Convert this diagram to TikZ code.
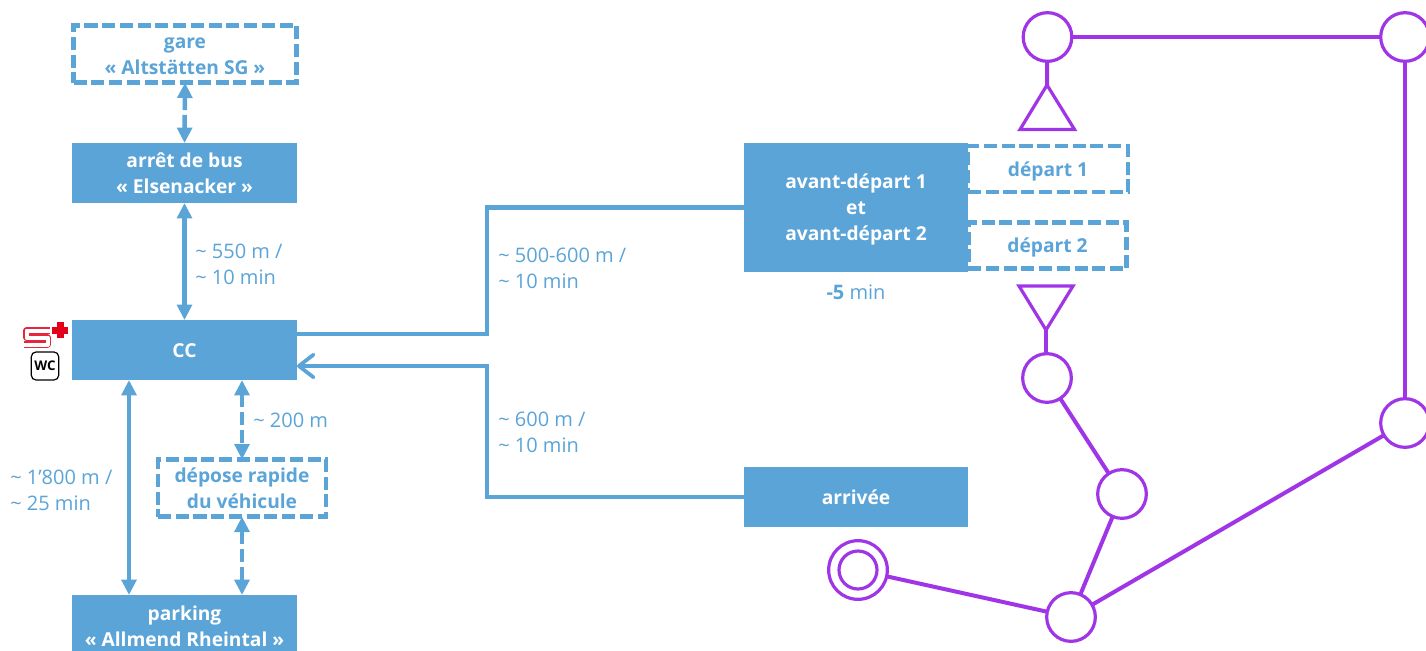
\documentclass[tikz,border=0pt]{standalone}
\usepackage{fontspec}
\setmainfont{Open Sans}
\usetikzlibrary{arrows.meta,calc}
\definecolor{bl}{HTML}{5BA4D8}
\definecolor{pu}{HTML}{9F35E6}
\definecolor{sred}{HTML}{E2001A}
\newcommand{\lnst}{\rule[-4.35pt]{0pt}{19.5pt}}
\tikzset{
  x=0.75pt,y=-0.75pt,
  txt/.style={font=\fontsize{15}{19.5}\selectfont,text=bl,align=left,inner sep=0pt},
  solidbox/.style={fill=bl,text=white,font=\fontsize{14.4}{19.5}\selectfont\bfseries,align=center,inner sep=0pt,outer sep=0pt},
  dashbox/.style={draw=bl,line width=3.6pt,fill=white,dash pattern=on 9.8pt off 3.5pt,text=bl,font=\fontsize{14.4}{19.5}\selectfont\bfseries,align=center,inner sep=0pt,outer sep=0pt},
  biarrow/.style={draw=bl,line width=3.4pt,{Triangle[width=11pt,length=11.5pt]}-{Triangle[width=11pt,length=11.5pt]}},
  dasharrow/.style={biarrow,dash pattern=on 9.8pt off 3.5pt},
  elbow/.style={draw=bl,line width=3.5pt},
  stop/.style={circle,draw=pu,line width=2.4pt,fill=white,minimum size=36.5pt,inner sep=0pt,outer sep=0pt},
  track/.style={draw=pu,line width=3pt},
  tri/.style={draw=pu,line width=2.4pt,fill=white,line join=miter}
}
\begin{document}
\begin{tikzpicture}
\clip (0,0) rectangle (1426,650);
% blue boxes
\node[dashbox,minimum width=167pt,minimum height=43pt] (gare) at (185,54) {\lnst gare\\\lnst « Altstätten SG »};
\node[solidbox,minimum width=168.75pt,minimum height=45pt] (arret) at (184.5,173) {\lnst arrêt de bus\\\lnst « Elsenacker »};
\node[solidbox,minimum width=168.75pt,minimum height=45pt] (cc) at (184.5,350) {\lnst CC};
\node[dashbox,minimum width=126pt,minimum height=43pt] (depose) at (242,488) {\lnst dépose rapide\\\lnst du véhicule};
\node[solidbox,minimum width=168.75pt,minimum height=46.5pt] (parking) at (184.5,626) {\lnst parking\\\lnst « Allmend Rheintal »};
\node[dashbox,minimum width=120pt,minimum height=34.5pt] (dep1) at (1048,169) {\lnst départ 1};
\node[dashbox,minimum width=119pt,minimum height=34.5pt] (dep2) at (1047.5,245.5) {\lnst départ 2};
\node[solidbox,minimum width=168pt,minimum height=96.75pt] (avant) at (856,207.5) {\lnst avant-départ 1\\\lnst et\\\lnst avant-départ 2};
\node[solidbox,minimum width=168pt,minimum height=45pt] (arrivee) at (856,497) {\lnst arrivée};
% arrows
\coordinate (xa) at (129,0);
\coordinate (xb) at (242,0);
\draw[dasharrow] (gare.south) -- (arret.north);
\draw[biarrow] (arret.south) -- (cc.north);
\draw[biarrow] (cc.south -| xa) -- (parking.north -| xa);
\draw[dasharrow] (cc.south -| xb) -- (depose.north -| xb);
\draw[dasharrow] (depose.south -| xb) -- (parking.north -| xb);
\coordinate (yout) at (0,334);
\coordinate (yin) at (0,366);
\coordinate (xm) at (487,0);
\draw[elbow] (cc.east |- yout) -| (xm |- avant.west) -- (avant.west);
\draw[elbow,{Straight Barb[length=11pt,width=17pt,line width=2.8pt,round]}-] (cc.east |- yin) -| (xm |- arrivee.west) -- (arrivee.west);
% distance labels
\node[txt,anchor=west] (l1) at (195,264) {\textasciitilde{} 550 m /\\\textasciitilde{} 10 min};
\node[txt,anchor=west] (l2) at (10,490) {\textasciitilde{} 1’800 m /\\\textasciitilde{} 25 min};
\node[txt,anchor=west] (l3) at (253,420) {\textasciitilde{} 200 m};
\node[txt,anchor=west] (l4) at (498,268) {\textasciitilde{} 500-600 m /\\\textasciitilde{} 10 min};
\node[txt,anchor=west] (l5) at (498,432) {\textasciitilde{} 600 m /\\\textasciitilde{} 10 min};
\node[txt,anchor=center] (l6) at (856,292) {\textbf{-5} min};
% purple network
\node[stop] (sa) at (1047.5,37) {};
\node[stop] (sb) at (1405,37) {};
\node[stop] (sc) at (1405,423) {};
\node[stop] (sd) at (1047,378) {};
\node[stop] (se) at (1122,494) {};
\node[stop] (sf) at (1071,617) {};
\node[stop,minimum size=44pt] (sg) at (858,570) {};
\node[stop,minimum size=28.5pt] (sg2) at (858,570) {};
\coordinate (tu) at (1047,85);
\coordinate (td) at (1046,330);
\draw[track] (sa) -- (sb);
\draw[track] (sb) -- (sc);
\draw[track] (sc) -- (sf);
\draw[track] (sf) -- (se);
\draw[track] (se) -- (sd);
\draw[track] (sf) -- (sg);
\draw[track] (sa) -- (tu);
\draw[track] (sd.north -| td) -- (td);
\draw[tri] (tu) -- (1020,129.5) -- (1074.5,129.5) -- cycle;
\draw[tri] (td) -- (1019,286) -- (1073,286) -- cycle;
% icons
\draw[sred!85!white,line width=4.6pt,line join=round] (50,330.5) -- (26.5,330.5) -- (26.5,337.5) -- (47.5,337.5) -- (47.5,344.5) -- (24,344.5);
\draw[white,line width=3pt,line join=round] (50,330.5) -- (26.5,330.5) -- (26.5,337.5) -- (47.5,337.5) -- (47.5,344.5) -- (24,344.5);
\fill[sred] (56.5,322) rectangle (63.5,338);
\fill[sred] (52,326.5) rectangle (68,333.5);
\node[draw=black,line width=0.9pt,rounded corners=3.5pt,minimum width=20.5pt,minimum height=21pt,inner sep=0pt,font=\fontsize{10}{10}\selectfont\bfseries] (wc) at (45,366) {WC};
\end{tikzpicture}
\end{document}
